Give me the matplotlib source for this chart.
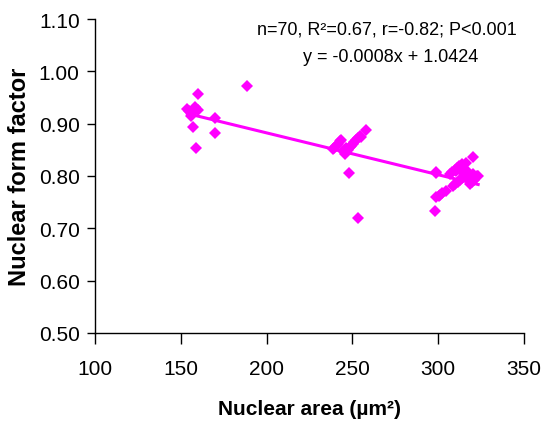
import matplotlib
matplotlib.use("Agg")
import matplotlib.pyplot as plt
import numpy as np

plt.rcParams['font.family'] = ['Liberation Sans', 'DejaVu Sans']

# Data
area = [
    160.3, 188.6, 153.9, 158.4, 155.9, 159.8, 157.0, 169.9, 157.2, 169.9, 158.8, 155.0,
    238.6, 239.5, 240.5, 241.5, 242.5, 243.5, 245.4, 246.3, 247.2, 248.4, 249.3,
    250.2, 251.2, 252.2, 253.2, 254.2, 255.0, 258.1, 248.0, 253.4, 244.5, 246.0,
    298.6, 298.0, 299.0, 301.0, 302.5, 304.8, 306.8, 308.0, 309.5, 311.0, 312.3,
    313.6, 316.1, 320.0, 308.7, 310.0, 311.3, 312.6, 313.9, 315.2, 316.4, 317.5,
    318.5, 319.5, 320.6, 321.7, 322.6, 323.3, 310.5, 313.0, 315.0, 316.0, 318.0,
    320.0, 300.5, 298.8,
]
form_factor = [
    0.957, 0.972, 0.928, 0.931, 0.915, 0.927, 0.922, 0.910, 0.894, 0.882, 0.853, 0.925,
    0.851, 0.854, 0.858, 0.862, 0.867, 0.869, 0.842, 0.846, 0.850, 0.855, 0.858,
    0.861, 0.865, 0.869, 0.873, 0.877, 0.875, 0.888, 0.805, 0.719, 0.848, 0.853,
    0.806, 0.733, 0.759, 0.763, 0.767, 0.772, 0.804, 0.808, 0.812, 0.815, 0.819,
    0.823, 0.825, 0.836, 0.781, 0.785, 0.789, 0.793, 0.797, 0.801, 0.804, 0.807,
    0.785, 0.789, 0.792, 0.796, 0.800, 0.800, 0.809, 0.812, 0.808, 0.800, 0.795,
    0.803, 0.761, 0.808,
]

slope = -0.0008
intercept = 1.0424

x_ticks = [100, 150, 200, 250, 300, 350]
y_ticks = [0.50, 0.60, 0.70, 0.80, 0.90, 1.00, 1.10]

fig = plt.figure(figsize=(5.41, 4.27), dpi=100)
ax = fig.add_axes([95/541, 1 - 334/427, (524-95)/541, (334-20)/427])

xs = np.array([min(area), max(area)])
ax.plot(xs, slope * xs + intercept, color='#FF00FF', lw=2.2, zorder=2)
ax.plot(area, form_factor, linestyle='none', marker='D', markersize=6.3,
        color='#FF00FF', markeredgewidth=0, zorder=3)

ax.set_xlim(100, 350)
ax.set_ylim(0.50, 1.10)
ax.set_xticks(x_ticks)
ax.set_yticks(y_ticks)
ax.set_yticklabels([f"{v:.2f}" for v in y_ticks])
ax.set_xticklabels([str(v) for v in x_ticks])

for s in ['top', 'right']:
    ax.spines[s].set_visible(False)
for s in ['left', 'bottom']:
    ax.spines[s].set_linewidth(1.0)

ax.tick_params(axis='x', direction='out', length=8, width=1, labelsize=15, pad=11)
ax.tick_params(axis='y', direction='out', length=6, width=1, labelsize=15, pad=5)

ax.set_xlabel('Nuclear area (\u00b5m\u00b2)', fontsize=15, fontweight='bold', labelpad=15)
ax.set_ylabel('Nuclear form factor', fontsize=17, fontweight='bold', labelpad=6)

ax.text(0.68, 0.967, 'n=70, R\u00b2=0.67, r=-0.82; P<0.001', transform=ax.transAxes,
        ha='center', va='center', fontsize=13)
ax.text(0.69, 0.88, 'y = -0.0008x + 1.0424', transform=ax.transAxes,
        ha='center', va='center', fontsize=13)

fig.savefig('out.png', dpi=100)
